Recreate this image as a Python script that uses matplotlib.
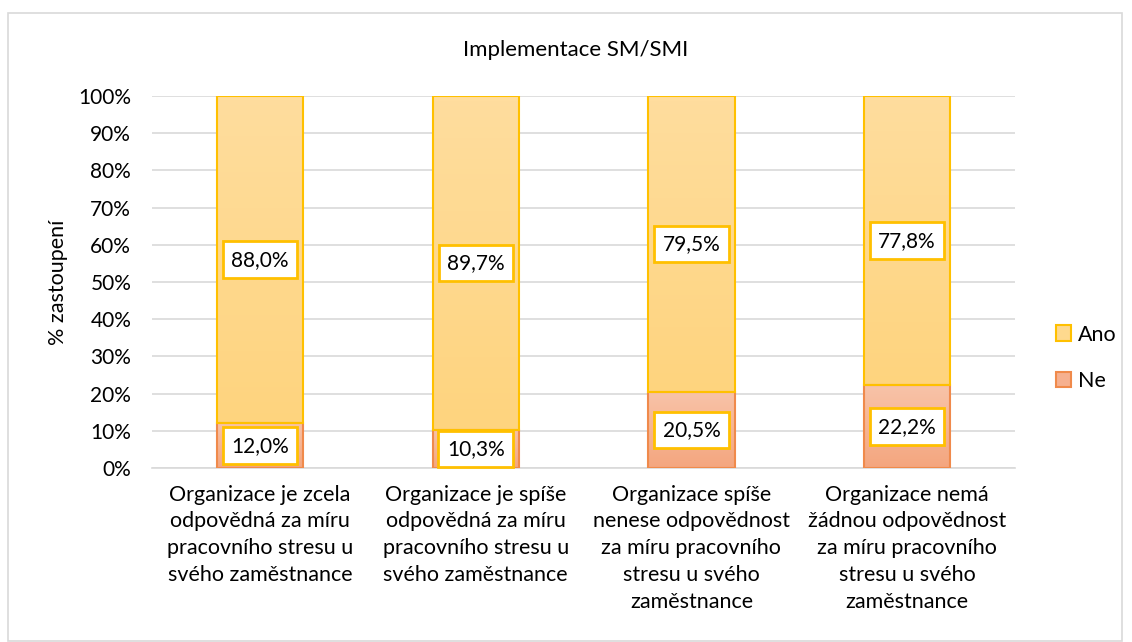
import matplotlib
matplotlib.use('Agg')
import matplotlib.pyplot as plt
import numpy as np
from matplotlib.patches import Rectangle

plt.rcParams['font.family'] = ['Lato', 'DejaVu Sans']

# data
categories = [
    "Organizace je zcela\nodpovědná za míru\npracovního stresu u\nsvého zaměstnance",
    "Organizace je spíše\nodpovědná za míru\npracovního stresu u\nsvého zaměstnance",
    "Organizace spíše\nnenese odpovědnost\nza míru pracovního\nstresu u svého\nzaměstnance",
    "Organizace nemá\nžádnou odpovědnost\nza míru pracovního\nstresu u svého\nzaměstnance",
]
ne = [12.0, 10.3, 20.5, 22.2]
ano = [88.0, 89.7, 79.5, 77.8]
title = "Implementace SM/SMI"
ylabel = "% zastoupení"

fig = plt.figure(figsize=(11.32, 6.42), dpi=100)
ax = fig.add_axes([0.1343, 0.271, 0.7624, 0.5795])

# outer chart border
fig.patches.append(Rectangle((8 / 1132, 0.001), 1114 / 1132, 1 - 13 / 642 - 0.001,
                             transform=fig.transFigure, fill=False,
                             edgecolor='#D9D9D9', linewidth=1.2))

x = np.arange(len(categories))
w = 0.40

def grad_fill(bars, top, bottom):
    c1 = np.array(matplotlib.colors.to_rgb(top))
    c2 = np.array(matplotlib.colors.to_rgb(bottom))
    t = np.linspace(0, 1, 64)[:, None]
    img = (c1 * (1 - t) + c2 * t)[:, None, :]
    for b in bars:
        bx, by = b.get_x(), b.get_y()
        bw, bh = b.get_width(), b.get_height()
        im = ax.imshow(img, extent=[bx, bx + bw, by, by + bh], aspect='auto',
                       zorder=b.get_zorder() - 0.1, origin='upper')
        im.set_clip_path(b)

b_ne = ax.bar(x, ne, w, color='none', edgecolor='#F08A4B', linewidth=1.5,
              label='Ne', zorder=3)
b_ano = ax.bar(x, ano, w, bottom=ne, color='none', edgecolor='#FFC000',
               linewidth=1.5, label='Ano', zorder=3)
grad_fill(b_ne, '#F8C3A8', '#F4A67F')
grad_fill(b_ano, '#FFDD9E', '#FED47E')

for i in range(len(x)):
    for val, y in [(ne[i], ne[i] / 2), (ano[i], ne[i] + ano[i] / 2)]:
        ax.text(x[i], y, f"{val:.1f}%".replace('.', ','), ha='center', va='center',
                fontsize=15, color='#000000', zorder=5,
                bbox=dict(boxstyle='square,pad=0.4', facecolor='white',
                          edgecolor='#FFC000', linewidth=2))

ax.set_xlim(-0.5, len(x) - 0.5)
ax.set_ylim(0, 100)
ax.set_yticks(np.arange(0, 101, 10))
ax.set_yticklabels([f"{v}%" for v in range(0, 101, 10)], fontsize=15)
ax.set_xticks(x)
ax.set_xticklabels(categories, fontsize=15.5, linespacing=1.42, va='top')
ax.tick_params(axis='y', length=0, pad=15)
ax.tick_params(axis='x', length=0, pad=12)
ax.grid(axis='y', color='#D9D9D9', linewidth=1.2)
ax.set_axisbelow(True)
for s in ['top', 'right', 'left']:
    ax.spines[s].set_visible(False)
ax.spines['bottom'].set_color('#D9D9D9')
ax.spines['bottom'].set_linewidth(1.2)

ax.set_ylabel(ylabel, fontsize=15.5)
ax.yaxis.set_label_coords(-0.097, 0.5)
fig.text(576 / 1132, 1 - 50 / 642, title, ha='center', va='center', fontsize=16)

handles = [b_ano, b_ne]
leg = fig.legend(handles, ['Ano', 'Ne'], loc='center left',
                 bbox_to_anchor=(0.916, 1 - 358 / 642), frameon=False,
                 fontsize=15.5, handlelength=0.7, handleheight=0.7,
                 handletextpad=0.3, labelspacing=1.25)
leg.legend_handles[0].set_facecolor('#FED98E')
leg.legend_handles[1].set_facecolor('#F6B08F')

fig.savefig('out.png', dpi=100)
